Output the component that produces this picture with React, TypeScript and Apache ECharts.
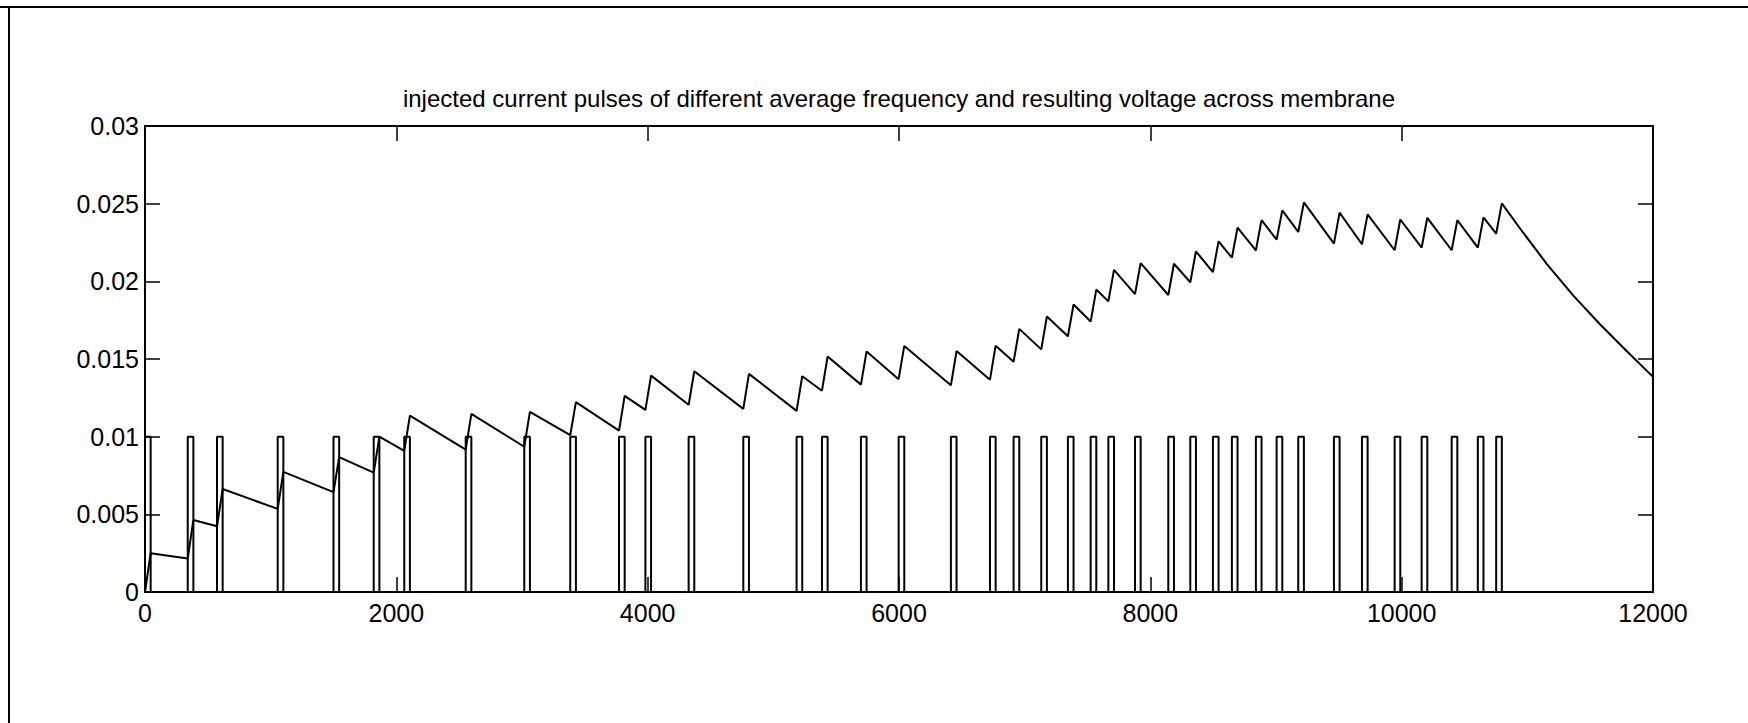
import React, { useEffect, useRef } from "react";
import * as echarts from "echarts";

// Onset time of each injected current pulse (same time units as the x axis)
const pulseStarts = [
  0, 340, 573, 1056, 1500, 1820, 2063, 2552, 3018, 3384,
  3772, 3982, 4326, 4761, 5185, 5387, 5697, 5997, 6413, 6724,
  6912, 7132, 7344, 7525, 7666, 7878, 8143, 8318, 8498, 8649,
  8840, 9005, 9177, 9461, 9684, 9944, 10159, 10398, 10606, 10752,
];
const pulseWidth = 45;
const pulseAmplitude = 0.01;

// Membrane voltage right before each pulse starts
const voltageAtPulseStart = [
  0, 0.00215, 0.00423, 0.00535, 0.00643, 0.00768, 0.00909, 0.00916, 0.00935, 0.0101,
  0.01039, 0.01172, 0.01205, 0.01179, 0.01166, 0.01296, 0.01335, 0.0137, 0.01331, 0.01367,
  0.01482, 0.01562, 0.01646, 0.01741, 0.01871, 0.01918, 0.01912, 0.01994, 0.02059, 0.02152,
  0.022, 0.02269, 0.02318, 0.02243, 0.02239, 0.022, 0.02217, 0.022, 0.02217, 0.02307,
];
// Membrane voltage at the end of each pulse
const voltageAtPulseEnd = [
  0.0025, 0.00464, 0.00663, 0.00773, 0.00868, 0.01, 0.01136, 0.01147, 0.0116, 0.01222,
  0.01263, 0.01393, 0.01421, 0.01404, 0.01389, 0.01516, 0.01549, 0.01584, 0.01551, 0.01586,
  0.01694, 0.01774, 0.01851, 0.01947, 0.02074, 0.02117, 0.02113, 0.02193, 0.02258, 0.02346,
  0.02394, 0.02457, 0.02508, 0.02442, 0.02431, 0.02398, 0.02409, 0.02394, 0.02411, 0.02502,
];
// Free decay after the last pulse
const decayTimes = [10942, 11154, 11366, 11578, 11790, 12000];
const decayVoltages = [0.0234, 0.02113, 0.01908, 0.01724, 0.01551, 0.01385];

const xTicks = { min: 0, max: 12000, interval: 2000 };
const yTicks = { min: 0, max: 0.03, interval: 0.005 };

const TITLE =
  "injected current pulses of different average frequency and resulting voltage across membrane";

const FONT = "'Liberation Sans', Arial, Helvetica, sans-serif";

function buildCurrentTrace(): number[][] {
  const pts: number[][] = [];
  pulseStarts.forEach((s) => {
    pts.push([s, 0], [s, pulseAmplitude], [s + pulseWidth, pulseAmplitude], [s + pulseWidth, 0]);
  });
  return pts;
}

function buildVoltageTrace(): number[][] {
  const pts: number[][] = [];
  pulseStarts.forEach((s, i) => {
    pts.push([s, voltageAtPulseStart[i]], [s + pulseWidth, voltageAtPulseEnd[i]]);
  });
  decayTimes.forEach((t, i) => pts.push([t, decayVoltages[i]]));
  return pts;
}

export default function App() {
  const ref = useRef<HTMLDivElement>(null);

  useEffect(() => {
    document.body.style.margin = "0";
    if (!ref.current) return;
    const chart = echarts.init(ref.current, undefined, { renderer: "svg" });

    const axisLine = { show: true, onZero: false, lineStyle: { color: "#000", width: 2 } };
    const tick = { show: true, inside: true, length: 15, lineStyle: { color: "#000", width: 1.5 } };
    const label = { color: "#000", fontSize: 25, fontFamily: FONT };

    chart.setOption({
      animation: false,
      backgroundColor: "#fff",
      grid: { left: 145, right: 95, top: 126, bottom: 131, containLabel: false },
      xAxis: [
        {
          type: "value",
          position: "bottom",
          ...xTicks,
          axisLine,
          axisTick: tick,
          axisLabel: { ...label, margin: 8, formatter: (v: number) => String(v) },
          splitLine: { show: false },
        },
        {
          type: "value",
          position: "top",
          ...xTicks,
          axisLine,
          axisTick: tick,
          axisLabel: { show: false },
          splitLine: { show: false },
        },
      ],
      yAxis: [
        {
          type: "value",
          position: "left",
          ...yTicks,
          axisLine,
          axisTick: tick,
          axisLabel: {
            ...label,
            margin: 6,
            formatter: (v: number) => String(+v.toFixed(4)),
          },
          splitLine: { show: false },
        },
        {
          type: "value",
          position: "right",
          ...yTicks,
          axisLine,
          axisTick: tick,
          axisLabel: { show: false },
          splitLine: { show: false },
        },
      ],
      graphic: [
        {
          type: "text",
          x: 899,
          y: 98,
          style: {
            text: TITLE,
            fill: "#000",
            font: `24px ${FONT}`,
            textAlign: "center",
            textVerticalAlign: "middle",
          },
        },
        {
          type: "line",
          shape: { x1: 0, y1: 7, x2: 1748, y2: 7 },
          style: { stroke: "#000", lineWidth: 2 },
        },
        {
          type: "line",
          shape: { x1: 9, y1: 7, x2: 9, y2: 723 },
          style: { stroke: "#000", lineWidth: 2 },
        },
      ],
      series: [
        {
          name: "injected current",
          type: "line",
          xAxisIndex: 0,
          yAxisIndex: 0,
          data: buildCurrentTrace(),
          showSymbol: false,
          lineStyle: { color: "#000", width: 2 },
        },
        {
          name: "membrane voltage",
          type: "line",
          xAxisIndex: 0,
          yAxisIndex: 0,
          data: buildVoltageTrace(),
          showSymbol: false,
          lineStyle: { color: "#000", width: 2 },
        },
      ],
    });

    return () => chart.dispose();
  }, []);

  return (
    <div
      ref={ref}
      style={{ position: "absolute", left: 0, top: 0, width: 1748, height: 723, background: "#fff" }}
    />
  );
}
